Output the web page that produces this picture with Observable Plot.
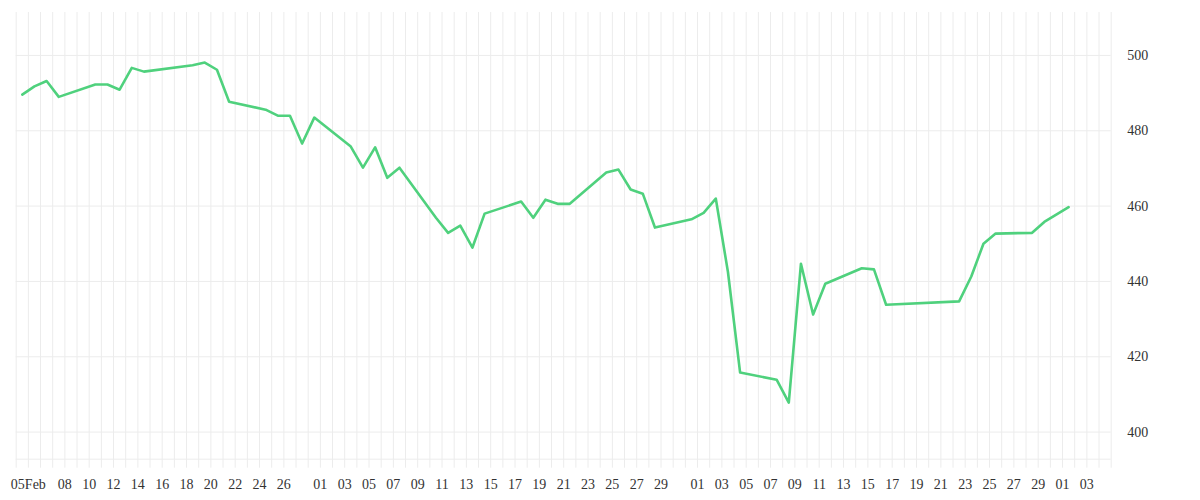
<!DOCTYPE html>
<html>
<head>
<meta charset="utf-8">
<script src="https://cdn.jsdelivr.net/npm/d3@7"></script>
<script src="https://cdn.jsdelivr.net/npm/@observablehq/plot@0.6"></script>
<style>
  html, body { margin: 0; padding: 0; background: #fff; }
  #chart svg { display: block; }
</style>
</head>
<body>
<div id="chart"></div>
<script>
// Trading dates (2019) and closing values
const dates = [
  "2019-02-05","2019-02-06","2019-02-07","2019-02-08",
  "2019-02-11","2019-02-12","2019-02-13","2019-02-14","2019-02-15",
  "2019-02-19","2019-02-20","2019-02-21","2019-02-22",
  "2019-02-25","2019-02-26","2019-02-27","2019-02-28","2019-03-01",
  "2019-03-04","2019-03-05","2019-03-06","2019-03-07","2019-03-08",
  "2019-03-11","2019-03-12","2019-03-13","2019-03-14","2019-03-15",
  "2019-03-18","2019-03-19","2019-03-20","2019-03-21","2019-03-22",
  "2019-03-25","2019-03-26","2019-03-27","2019-03-28","2019-03-29",
  "2019-04-01","2019-04-02","2019-04-03","2019-04-04","2019-04-05",
  "2019-04-08","2019-04-09","2019-04-10","2019-04-11","2019-04-12",
  "2019-04-15","2019-04-16","2019-04-17",
  "2019-04-23","2019-04-24","2019-04-25","2019-04-26",
  "2019-04-29","2019-04-30","2019-05-02"
];
const values = [
  489.6, 491.8, 493.2, 489.0,
  492.3, 492.3, 490.9, 496.7, 495.7,
  497.4, 498.1, 496.2, 487.7,
  485.6, 484.0, 484.0, 476.6, 483.5,
  475.8, 470.2, 475.6, 467.5, 470.2,
  456.9, 452.9, 454.8, 449.0, 458.0,
  461.2, 456.9, 461.7, 460.6, 460.6,
  468.9, 469.7, 464.4, 463.3, 454.3,
  456.5, 458.2, 462.0, 442.5, 415.8,
  413.9, 407.8, 444.7, 431.2, 439.4,
  443.5, 443.2, 433.8,
  434.7, 441.3, 450.0, 452.7,
  452.9, 455.8, 459.7
];
// x-axis tick labels (dates of the labelled grid lines)
const xTicks = [
  "2019-02-05","2019-02-08","2019-02-10","2019-02-12","2019-02-14","2019-02-16",
  "2019-02-18","2019-02-20","2019-02-22","2019-02-24","2019-02-26",
  "2019-03-01","2019-03-03","2019-03-05","2019-03-07","2019-03-09","2019-03-11",
  "2019-03-13","2019-03-15","2019-03-17","2019-03-19","2019-03-21","2019-03-23",
  "2019-03-25","2019-03-27","2019-03-29",
  "2019-04-01","2019-04-03","2019-04-05","2019-04-07","2019-04-09","2019-04-11",
  "2019-04-13","2019-04-15","2019-04-17","2019-04-19","2019-04-21","2019-04-23",
  "2019-04-25","2019-04-27","2019-04-29",
  "2019-05-01","2019-05-03"
];
const yTicks = [400, 420, 440, 460, 480, 500];
const xDomain = ["2019-02-04", "2019-05-05"];
const yDomain = [392.8, 511.4];

const parse = d3.utcParse("%Y-%m-%d");
const HALF_DAY = 12 * 3600 * 1000;
const data = dates.map((d, i) => ({date: parse(d), value: values[i]}));
const tickDates = xTicks.map(parse);
const xd = xDomain.map(parse);
const dayLines = d3.utcDay.range(xd[0], d3.utcDay.offset(xd[1], 1));

const grid = "#ececec";
const chart = Plot.plot({
  width: 1200,
  height: 500,
  marginTop: 12,
  marginBottom: 41.3,
  marginLeft: 15.7,
  marginRight: 89.3,
  style: {fontFamily: "'Liberation Serif', serif", fontSize: "14px", color: "#333", background: "#fff"},
  x: {type: "utc", domain: xd},
  y: {domain: yDomain},
  marks: [
    Plot.ruleX(dayLines, {stroke: grid, strokeWidth: 1, insetBottom: -9}),
    Plot.ruleY(yTicks, {stroke: grid, strokeWidth: 1}),
    Plot.ruleY([yDomain[0]], {stroke: grid, strokeWidth: 1}),
    Plot.line(data, {
      x: d => new Date(+d.date - HALF_DAY),
      y: "value",
      stroke: "#4fd17d",
      strokeWidth: 2.6,
      strokeLinejoin: "round",
      strokeLinecap: "round"
    }),
    Plot.axisX({
      ticks: tickDates,
      tickSize: 0,
      tickPadding: 20,
      label: null,
      fill: "#333",
      tickFormat: (d, i) => i === 0 ? d3.utcFormat("%d%b")(d) : d3.utcFormat("%d")(d)
    }),
    Plot.axisY({
      anchor: "right",
      ticks: yTicks,
      tickSize: 0,
      tickPadding: 16,
      label: null,
      fill: "#333"
    })
  ]
});
document.getElementById("chart").appendChild(chart);
</script>
</body>
</html>
